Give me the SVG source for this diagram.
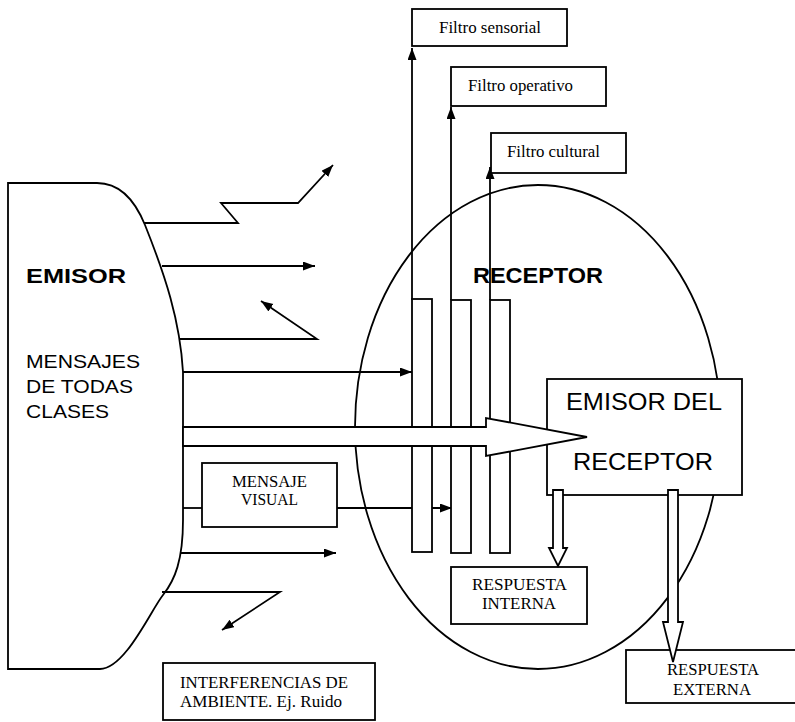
<svg xmlns="http://www.w3.org/2000/svg" width="795" height="722" viewBox="0 0 795 722">
<style>
.s{fill:none;stroke:#000;stroke-width:1.8}
.w{fill:#fff;stroke:#000;stroke-width:1.8}
.sans{font-family:"Liberation Sans",Arial,sans-serif;fill:#000}
.b{font-weight:bold}
.serif{font-family:"Liberation Serif","Times New Roman",serif;font-size:16px;fill:#000}
</style>
<defs>
<marker id="ah" markerUnits="userSpaceOnUse" markerWidth="13" markerHeight="10" refX="12" refY="4.5" orient="auto">
<path d="M0,0 L12,4.5 L0,9 Z" fill="#000"/>
</marker>
</defs>
<rect width="795" height="722" fill="#fff"/>

<g id="receptor">
<ellipse class="s" cx="538" cy="427" rx="183" ry="242"/>
<text class="sans b" x="473" y="283" font-size="22" textLength="130" lengthAdjust="spacingAndGlyphs">RECEPTOR</text>
</g>

<g id="emisor">
<path class="s" d="M8,183 H97 C118,183 134,198 145,225 C165,275 180,320 183,372 L183,520 C183,560 175,580 163,595 C151,610 125,669 100,669 H8 Z"/>
<text class="sans b" x="26" y="283" font-size="21" textLength="100" lengthAdjust="spacingAndGlyphs">EMISOR</text>
<text class="sans" x="26" y="368" font-size="19" textLength="114" lengthAdjust="spacingAndGlyphs">MENSAJES</text>
<text class="sans" x="26" y="393" font-size="19" textLength="107" lengthAdjust="spacingAndGlyphs">DE TODAS</text>
<text class="sans" x="26" y="418" font-size="19" textLength="83" lengthAdjust="spacingAndGlyphs">CLASES</text>
</g>

<g id="connectors">
<polyline class="s" points="144,223 238,223 221,203 298,203 333,165" marker-end="url(#ah)"/>
<line class="s" x1="162" y1="266" x2="315" y2="266" marker-end="url(#ah)"/>
<polyline class="s" points="179,339 317,339 261,301" marker-end="url(#ah)"/>
<line class="s" x1="183" y1="372" x2="412" y2="372" marker-end="url(#ah)"/>
<line class="s" x1="183" y1="508" x2="202" y2="508"/>
<line class="s" x1="337" y1="508" x2="452" y2="508" marker-end="url(#ah)"/>
<line class="s" x1="181" y1="553" x2="336" y2="553" marker-end="url(#ah)"/>
<polyline class="s" points="162,592 280,592 222,630" marker-end="url(#ah)"/>
<line class="s" x1="412" y1="300" x2="412" y2="48" marker-end="url(#ah)"/>
<line class="s" x1="451" y1="300" x2="451" y2="107" marker-end="url(#ah)"/>
<line class="s" x1="490" y1="300" x2="490" y2="167" marker-end="url(#ah)"/>
</g>

<g id="filtros-barras">
<rect class="w" x="412" y="299" width="20" height="253"/>
<rect class="w" x="451" y="300" width="20" height="253"/>
<rect class="w" x="490" y="300" width="20" height="253"/>
</g>

<g id="filtro-sensorial">
<rect class="w" x="412" y="9" width="155" height="37"/>
<text class="serif" x="439" y="33" textLength="102" lengthAdjust="spacingAndGlyphs">Filtro sensorial</text>
</g>
<g id="filtro-operativo">
<rect class="w" x="451" y="67" width="155" height="39"/>
<text class="serif" x="468" y="91" textLength="105" lengthAdjust="spacingAndGlyphs">Filtro operativo</text>
</g>
<g id="filtro-cultural">
<rect class="w" x="491" y="133" width="135" height="40"/>
<text class="serif" x="507" y="157" textLength="93" lengthAdjust="spacingAndGlyphs">Filtro cultural</text>
</g>

<g id="emisor-del-receptor">
<rect class="w" x="547" y="379" width="195" height="116"/>
<text class="sans" x="566" y="410" font-size="23" textLength="156" lengthAdjust="spacingAndGlyphs">EMISOR DEL</text>
<text class="sans" x="573" y="470" font-size="23" textLength="140" lengthAdjust="spacingAndGlyphs">RECEPTOR</text>
</g>

<g id="mensaje-visual">
<rect class="w" x="202" y="463" width="135" height="64"/>
<text class="serif" x="232" y="487" textLength="75" lengthAdjust="spacingAndGlyphs">MENSAJE</text>
<text class="serif" x="241" y="505" textLength="57" lengthAdjust="spacingAndGlyphs">VISUAL</text>
</g>

<g id="respuesta-interna">
<rect class="w" x="451" y="567" width="136" height="57"/>
<text class="serif" x="472" y="590" textLength="95" lengthAdjust="spacingAndGlyphs">RESPUESTA</text>
<text class="serif" x="482" y="609" textLength="74" lengthAdjust="spacingAndGlyphs">INTERNA</text>
</g>

<g id="respuesta-externa">
<rect class="w" x="626" y="650" width="180" height="53"/>
<text class="serif" x="667" y="675" textLength="92" lengthAdjust="spacingAndGlyphs">RESPUESTA</text>
<text class="serif" x="673" y="695" textLength="78" lengthAdjust="spacingAndGlyphs">EXTERNA</text>
</g>

<g id="interferencias">
<rect class="w" x="163" y="663" width="212" height="57"/>
<text class="serif" x="180" y="688" textLength="168" lengthAdjust="spacingAndGlyphs">INTERFERENCIAS DE</text>
<text class="serif" x="180" y="707" textLength="162" lengthAdjust="spacingAndGlyphs">AMBIENTE. Ej. Ruido</text>
</g>

<g id="flechas-huecas">
<path class="w" d="M183,427 L486,427 L486,418 L587,437 L486,456 L486,446 L183,446 Z"/>
<path class="w" d="M553,490 L563,490 L563,548 L567,548 L558,566 L549,548 L553,548 Z"/>
<path class="w" d="M668,490 L678,490 L678,622 L683,622 L673,662 L663,622 L668,622 Z"/>
</g>
</svg>
